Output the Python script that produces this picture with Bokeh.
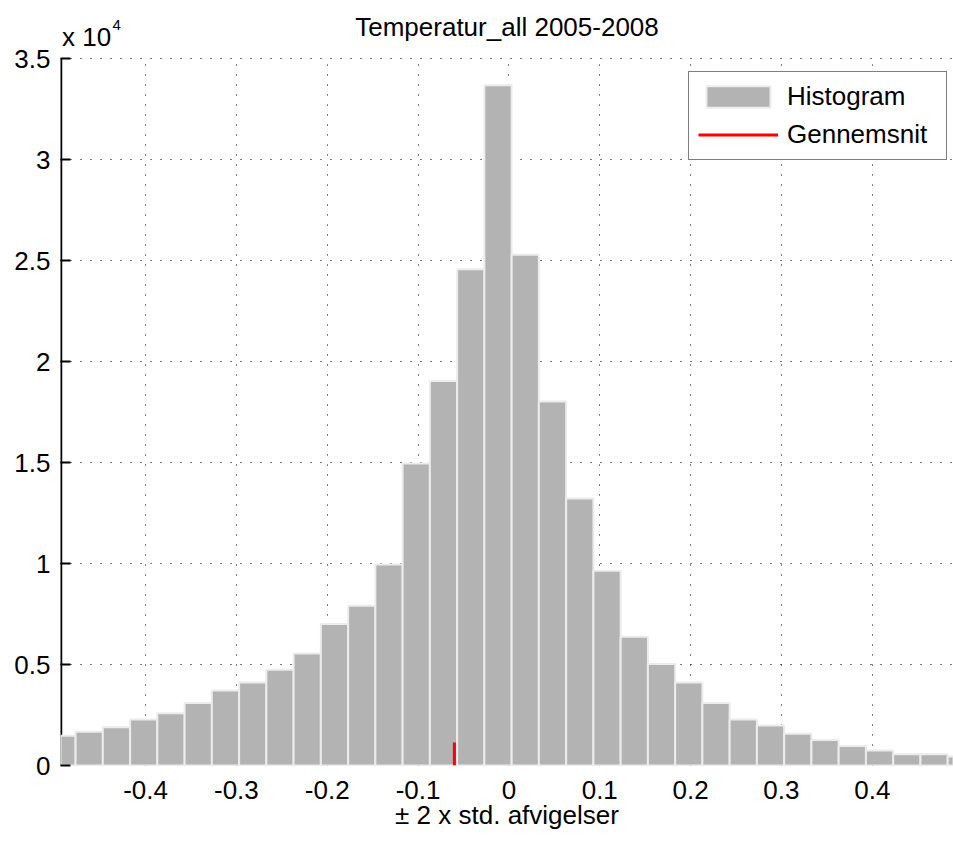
from bokeh.plotting import figure
from bokeh.models import Range1d, FixedTicker, Label, BoxAnnotation
from bokeh.embed import file_html
from bokeh.resources import INLINE

# ---- data ----
bin_centers = [-0.492, -0.462, -0.432, -0.402, -0.372, -0.342, -0.312, -0.282,
               -0.252, -0.222, -0.192, -0.162, -0.132, -0.102, -0.072, -0.042,
               -0.012, 0.018, 0.048, 0.078, 0.108, 0.138, 0.168, 0.198,
               0.228, 0.258, 0.288, 0.318, 0.348, 0.378, 0.408, 0.438,
               0.468, 0.498]
counts = [1470, 1670, 1890, 2280, 2590, 3100, 3710, 4110,
          4740, 5540, 7000, 7910, 9950, 14950, 19040, 24570,
          33680, 25280, 18020, 13220, 9640, 6370, 5030, 4110,
          3100, 2280, 1980, 1570, 1260, 960, 740, 560,
          560, 450]
bin_width = 0.03
mean_value = -0.060
mean_marker_height = 1140

x_ticks = [-0.4, -0.3, -0.2, -0.1, 0, 0.1, 0.2, 0.3, 0.4]
x_tick_labels = ["-0.4", "-0.3", "-0.2", "-0.1", "0", "0.1", "0.2", "0.3", "0.4"]
y_ticks = [0, 5000, 10000, 15000, 20000, 25000, 30000, 35000]
y_tick_labels = ["0", "0.5", "1", "1.5", "2", "2.5", "3", "3.5"]

title_text = "Temperatur_all 2005-2008"
x_label = "\u00b1 2 x std. afvigelser"
exp_base = "x 10"
exp_power = "4"
series_names = ["Histogram", "Gennemsnit"]

x_lo, x_hi = -0.4936, 0.4894
y_lo, y_hi = 0, 35000
# the frame reaches the top of the canvas; axis area is 0..y_hi
y_view_hi = y_hi * 765 / 707

FONT = "Liberation Sans"
FS = "26px"

p = figure(width=953, height=843,
           x_range=Range1d(x_lo, x_hi), y_range=Range1d(y_lo, y_view_hi),
           output_backend="svg", toolbar_location=None,
           min_border_left=60, min_border_right=0,
           min_border_top=0, min_border_bottom=78)
p.outline_line_color = None
p.background_fill_color = "white"
p.border_fill_color = "white"

# bars
p.vbar(x=bin_centers, top=counts, width=bin_width, bottom=0,
       fill_color="#b3b3b3", line_color="#ececec", line_width=2,
       legend_label=series_names[0])
# mean marker
p.line(x=[mean_value, mean_value], y=[0, mean_marker_height],
       line_color="red", line_width=3, legend_label=series_names[1])

# left axis line drawn beneath the bars
p.segment(x0=[x_lo], y0=[y_lo], x1=[x_lo], y1=[y_hi],
          line_color="black", line_width=3.5, level="underlay")

# axes
xa = p.xaxis[0]
xa.ticker = FixedTicker(ticks=x_ticks)
xa.major_label_overrides = dict(zip(x_ticks, x_tick_labels))
xa.axis_line_color = None
xa.major_tick_line_color = None
xa.minor_tick_line_color = None
xa.major_label_text_font = FONT
xa.major_label_text_font_size = FS
xa.major_label_text_color = "black"
xa.major_label_standoff = 9
xa.axis_label = x_label
xa.axis_label_text_font = FONT
xa.axis_label_text_font_size = FS
xa.axis_label_text_font_style = "normal"
xa.axis_label_text_color = "black"
xa.axis_label_standoff = -2

ya = p.yaxis[0]
ya.ticker = FixedTicker(ticks=y_ticks)
ya.major_label_overrides = dict(zip(y_ticks, y_tick_labels))
ya.bounds = (y_lo, y_hi)
ya.axis_line_color = None
ya.major_tick_line_color = "black"
ya.major_tick_line_width = 2
ya.major_tick_in = 10
ya.major_tick_out = 0
ya.minor_tick_line_color = None
ya.major_label_text_font = FONT
ya.major_label_text_font_size = FS
ya.major_label_text_color = "black"
ya.major_label_standoff = 10

xg, yg = p.xgrid[0], p.ygrid[0]
for g in (xg, yg):
    g.grid_line_color = "black"
    g.grid_line_alpha = 1.0
    g.grid_line_width = 1
    g.grid_line_dash = "1 9"

# legend
lg = p.legend[0]
lg.location = (628, 605)
lg.label_text_font = FONT
lg.label_text_font_size = FS
lg.label_text_color = "black"
lg.glyph_width = 80
lg.glyph_height = 27
lg.label_height = 29
lg.label_width = 150
lg.label_standoff = 9
lg.padding = 9
lg.spacing = 7
lg.margin = 0
lg.border_line_color = "black"
lg.border_line_width = 1
lg.background_fill_color = "white"
lg.background_fill_alpha = 1.0

# white mask above the axes area (hides vertical grid lines there)
mask = BoxAnnotation(bottom=y_hi, fill_color="white", fill_alpha=1.0,
                     line_color=None, level="underlay")
others = [r for r in p.center if r is not xg and r is not yg]
p.center = [xg, mask, yg] + others

# title and exponent labels
p.add_layout(Label(x=(x_lo + x_hi) / 2, y=y_hi, y_offset=32, text=title_text,
                   text_font=FONT, text_font_size=FS, text_color="black",
                   text_baseline="alphabetic", text_align="center"))
p.add_layout(Label(x=x_lo, y=y_hi, x_offset=1.5, y_offset=22, text=exp_base,
                   text_font=FONT, text_font_size=FS, text_color="black",
                   text_baseline="alphabetic", text_align="left"))
p.add_layout(Label(x=x_lo, y=y_hi, x_offset=52, y_offset=34, text=exp_power,
                   text_font=FONT, text_font_size="15px", text_color="black",
                   text_baseline="alphabetic", text_align="left"))

open("out.html", "w").write(file_html(p, INLINE))
